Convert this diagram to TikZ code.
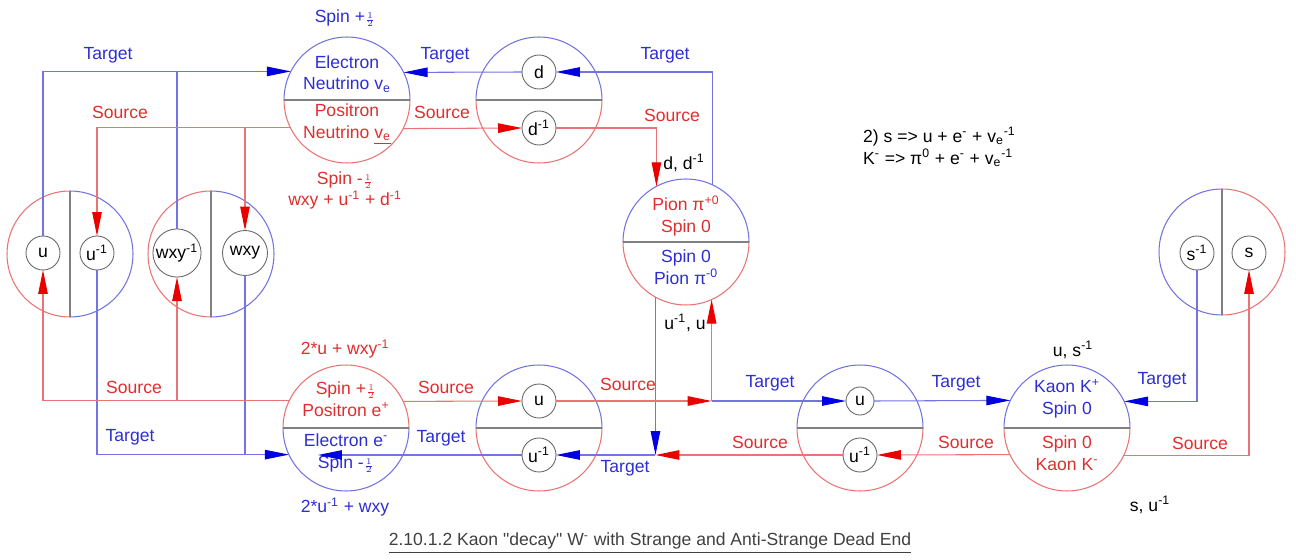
\documentclass[tikz,border=0pt]{standalone}
\usepackage{amsmath}
\usepackage{fontspec}
\setmainfont{Liberation Sans}
\usepackage{tikz}
\usetikzlibrary{arrows.meta}
\usepackage{xcolor}
\definecolor{bl}{RGB}{115,115,225}
\definecolor{rd}{RGB}{235,115,115}
\definecolor{blt}{RGB}{45,45,215}
\definecolor{rdt}{RGB}{225,45,45}
\definecolor{blA}{RGB}{0,0,225}
\definecolor{rdA}{RGB}{235,0,0}
\newcommand{\half}{$\genfrac{}{}{0.3pt}{3}{1}{2}$}

\begin{document}
\begin{tikzpicture}[x=0.02cm,y=0.02cm,font=\fontsize{10}{12.5}\selectfont,
  big/.style={circle,minimum size=2.52cm,inner sep=0pt,outer sep=0pt},
  q/.style={circle,draw=black!60,line width=0.5pt,minimum size=0.68cm,inner sep=0.5pt,outer sep=0pt},
  tgt/.style={draw=bl,line width=0.6pt},
  src/.style={draw=rd,line width=0.6pt},
  ta/.style={tgt,-{Triangle[length=4.8mm,width=1.9mm,color=blA]}},
  sa/.style={src,-{Triangle[length=4.8mm,width=1.9mm,color=rdA]}},
  bt/.style={text=blt,align=center},
  rt/.style={text=rdt,align=center}]
\useasboundingbox (0,0) rectangle (1296,559);
% split circles
\foreach \n/\x/\y/\ca/\cb in {nu/347/459/bl/rd,dd/539/459/bl/rd,pi/686/317/bl/rd,ep/346/131/rd/bl,uu/539/131/bl/rd,ku/860/131/bl/rd,ka/1067/131/bl/rd}{
  \node[big] (\n) at (\x,\y) {};
  \draw[\ca,line width=0.6pt] (\n.east) arc[start angle=0,end angle=180,radius=1.26cm];
  \draw[\cb,line width=0.6pt] (\n.west) arc[start angle=180,end angle=360,radius=1.26cm];
  \draw[black!50,line width=0.6pt] (\n.west) -- (\n.east);
}
\foreach \n/\x/\y/\ca/\cb in {lu/70/305/rd/bl,lw/211/305/rd/bl,ls/1222/307/bl/rd}{
  \node[big] (\n) at (\x,\y) {};
  \draw[\ca,line width=0.6pt] (\n.north) arc[start angle=90,end angle=270,radius=1.26cm];
  \draw[\cb,line width=0.6pt] (\n.south) arc[start angle=-90,end angle=90,radius=1.26cm];
  \draw[black!50,line width=0.6pt] (\n.north) -- (\n.south);
}
% quarks
\node[q] (d) at (539,487) {d};
\node[q] (di) at (539,431) {d\textsuperscript{-1}};
\node[q] (u1) at (43,306) {u};
\node[q] (ui1) at (97,306) {u\textsuperscript{-1}};
\node[q] (wi) at (177,306) {wxy\textsuperscript{-1}};
\node[q,minimum size=0.9cm] (w) at (245,306) {wxy};
\node[q] (u2) at (539,158) {u};
\node[q] (ui2) at (539,104) {u\textsuperscript{-1}};
\node[q,minimum size=0.56cm] (u3) at (860,158) {u};
\node[q] (ui3) at (860,104) {u\textsuperscript{-1}};
\node[q] (si) at (1197,306) {s\textsuperscript{-1}};
\node[q] (s) at (1249,306) {s};
\coordinate (ein) at (318,104);
% particle texts
\node[bt] (nuT) at (347,485) {Electron\\Neutrino v\textsubscript{e}};
\node[rt] (nuB) at (347,435) {Positron\\Neutrino \underline{v\textsubscript{e}}};
\node[rt] (piT) at (686,343) {Pion π\textsuperscript{+0}\\Spin 0};
\node[bt] (piB) at (686,292) {Spin 0\\Pion π\textsuperscript{-0}};
\node[rt] (epT) at (346,160) {Spin +\half\\Positron e\textsuperscript{+}};
\node[bt] (epB) at (346,106) {Electron e\textsuperscript{-}\\Spin -\half};
\node[bt] (kaT) at (1067,160) {Kaon K\textsuperscript{+}\\Spin 0};
\node[rt] (kaB) at (1067,106) {Spin 0\\Kaon K\textsuperscript{-}};
% target lines
\draw[ta] (u1.north) |- (nu.153.6);
\draw[tgt] (wi.north) -- (wi.north |- nu.153.6);
\draw[ta] (d.west) -- (nu.26.4);
\draw[ta] (pi.65.6) |- (d.east);
\draw[ta] (pi.241.6) -- (pi.241.6 |- ui2.east);
\draw[ta] (pi.241.6 |- ui2.east) -- (ui2.east);
\draw[ta] (ui1.south) |- (ep.205.4);
\draw[tgt] (w.south) -- (w.south |- ep.205.4);
\draw[ta] (ui2.west) -- (ein);
\draw[ta] (pi.294.4 |- u3.west) -- (u3.west);
\draw[ta] (u3.east) -- (ka.154.6);
\draw[ta] (si.south) |- (ka.25.4);
% source lines
\draw[sa] (nu.206.4) -| (ui1.north);
\draw[sa] (w.north |- nu.206.4) -- (w.north);
\draw[sa] (nu.333.6) -- (di.west);
\draw[sa] (di.east) -| (pi.118.4);
\draw[sa] (ep.154.6) -| (u1.south);
\draw[sa] (wi.south |- ep.154.6) -- (wi.south);
\draw[sa] (ep.25.4) -- (u2.west);
\draw[sa] (u2.east) -- (pi.294.4 |- u2.east);
\draw[sa] (pi.294.4 |- u2.east) -- (pi.294.4);
\draw[sa] (ui3.west) -- (pi.241.6 |- ui3.west);
\draw[sa] (ka.205.4) -- (ui3.east);
\draw[sa] (ka.334.6) -| (s.south);
% labels
\node[bt] (t1) at (108,504) {Target};
\node[bt] (t2) at (445,504) {Target};
\node[bt] (t3) at (665,504) {Target};
\node[bt] (t4) at (130,122) {Target};
\node[bt] (t5) at (441,121) {Target};
\node[bt] (t6) at (625,91) {Target};
\node[bt] (t7) at (770,176) {Target};
\node[bt] (t8) at (956,176) {Target};
\node[bt] (t9) at (1162,179) {Target};
\node[rt] (s1) at (120,447) {Source};
\node[rt] (s2) at (442,447) {Source};
\node[rt] (s3) at (672,444) {Source};
\node[rt] (s4) at (134,172) {Source};
\node[rt] (s5) at (446,172) {Source};
\node[rt] (s6) at (628,175) {Source};
\node[rt] (s7) at (760,117) {Source};
\node[rt] (s8) at (966,117) {Source};
\node[rt] (s9) at (1200,116) {Source};
\node[bt] (spU) at (345,541) {Spin +\half};
\node[rt] (spD) at (345,379) {Spin -\half};
\node[rt] (sumD) at (345,359) {wxy + u\textsuperscript{-1} + d\textsuperscript{-1}};
\node[rt] (sumE) at (345,210) {2*u + wxy\textsuperscript{-1}};
\node[bt] (sumF) at (345,52) {2*u\textsuperscript{-1} + wxy};
\node (ddl) at (684,396) {d, d\textsuperscript{-1}};
\node (uul) at (685,236) {u\textsuperscript{-1}, u};
\node (usl) at (1073,209) {u, s\textsuperscript{-1}};
\node (sul) at (1150,54) {s, u\textsuperscript{-1}};
\node[align=left,anchor=west] (eq) at (857,412) {2) s => u + e\textsuperscript{-} + v\textsubscript{e}\textsuperscript{-1}\\K\textsuperscript{-} => π\textsuperscript{0} + e\textsuperscript{-} + v\textsubscript{e}\textsuperscript{-1}};
\node[text=black!75] (cap) at (650,16) {\underline{2.10.1.2 Kaon \textquotedbl decay\textquotedbl{} W\textsuperscript{-} with Strange and Anti-Strange Dead End}};
\end{tikzpicture}
\end{document}
